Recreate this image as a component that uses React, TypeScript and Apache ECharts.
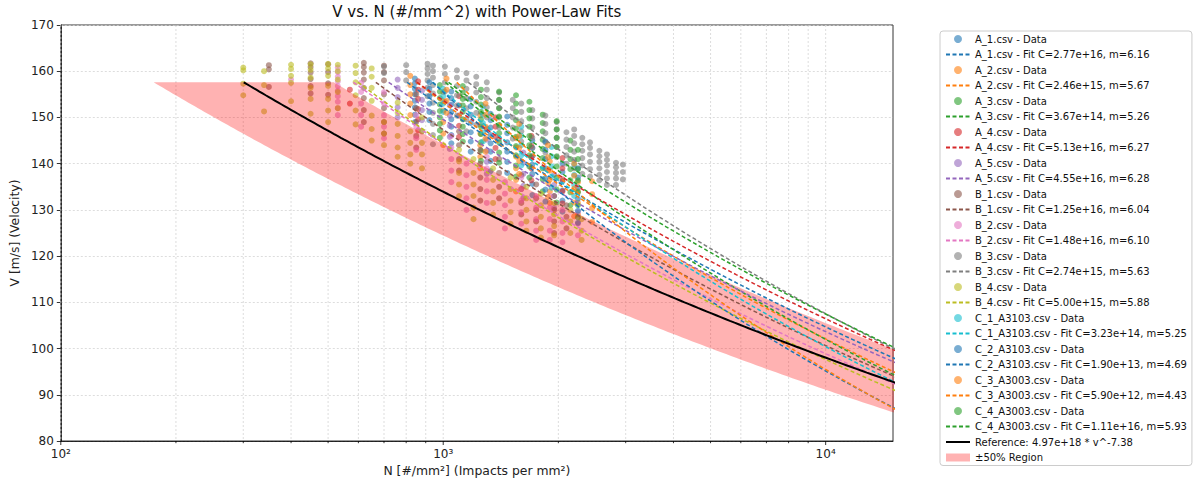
import React, { useEffect, useRef } from 'react';
import * as echarts from 'echarts';

type Col = [number, number[]];

const FILES = [
  'A_1.csv', 'A_2.csv', 'A_3.csv', 'A_4.csv', 'A_5.csv',
  'B_1.csv', 'B_2.csv', 'B_3.csv', 'B_4.csv',
  'C_1_A3103.csv', 'C_2_A3103.csv', 'C_3_A3003.csv', 'C_4_A3003.csv',
];
const COLORS = [
  '#1f77b4', '#ff7f0e', '#2ca02c', '#d62728', '#9467bd',
  '#8c564b', '#e377c2', '#7f7f7f', '#bcbd22',
  '#17becf', '#1f77b4', '#ff7f0e', '#2ca02c',
];
const FIT_C = [2.77e16, 2.46e15, 3.67e14, 5.13e16, 4.55e16, 1.25e16, 1.48e16, 2.74e15, 5.0e15, 3.23e14, 1.9e13, 5.9e12, 1.11e16];
const FIT_M = [6.16, 5.67, 5.26, 6.27, 6.28, 6.04, 6.1, 5.63, 5.88, 5.25, 4.69, 4.43, 5.93];
const REF_C = 4.97e18;
const REF_M = 7.38;
const V_TOP = 157.6;
const V_BOTTOM = 80;
const BAND_FACTOR = 1.72;

const X_MAJOR = [100, 1000, 10000];
const X_MINOR = [200, 300, 400, 500, 600, 700, 800, 900, 2000, 3000, 4000, 5000, 6000, 7000, 8000, 9000];
const SUP: Record<number, string> = { 2: '\u00b2', 3: '\u00b3', 4: '\u2074' };

// data columns: [N, [v values]]
const DATA_A_1: Col[] = [
  [843, [158.4, 157.4, 156.2, 155.0, 153.6, 152.2, 150.6, 149.0]],
  [1050, [155.6, 154.2, 152.8, 151.2, 149.6, 148.0, 146.2, 144.4]],
  [1330, [150.8, 149.4, 147.8, 146.2, 144.4, 142.6, 140.6, 138.4]],
  [1710, [145.0, 143.4, 141.6, 139.8, 137.8, 135.6, 133.2]],
  [2050, [140.0, 138.2, 136.2, 134.2, 132.0, 129.6]],
];
const DATA_A_2: Col[] = [
  [820, [159.0, 157.0, 155.0, 153.0, 150.5]],
  [1000, [155.5, 153.5, 151.5, 149.0, 146.5, 144.0]],
  [1250, [150.5, 148.5, 146.5, 144.0, 141.5, 139.0]],
  [1550, [145.5, 143.5, 141.5, 139.0, 136.5, 134.0]],
  [1900, [140.5, 138.5, 136.5, 134.0, 131.5]],
  [2250, [136.0, 134.0, 131.5, 129.0]],
];
const DATA_A_3: Col[] = [
  [980, [157.0, 155.6, 154.2, 152.8, 151.4, 150.0, 148.6, 147.2, 145.6]],
  [1255, [156.0, 154.4, 152.8, 151.2, 149.6, 148.0, 146.4, 144.6, 142.8, 140.6]],
  [1550, [154.8, 153.0, 151.2, 149.4, 147.6, 145.8, 143.8, 141.8, 139.6, 137.2]],
  [1820, [150.6, 148.8, 147.0, 145.2, 143.2, 141.2, 139.0, 136.6, 134.0]],
  [2150, [145.0, 143.0, 141.0, 138.8, 136.4, 133.8, 131.0]],
];
const DATA_A_4: Col[] = [
  [570, [156.0, 153.0]],
  [860, [157.8, 156.0, 154.0, 151.8, 149.6, 147.2]],
  [1100, [154.6, 152.6, 150.4, 148.2, 145.8]],
  [1370, [150.0, 148.0, 145.8, 143.4, 141.0]],
  [1700, [146.0, 143.8, 141.4, 139.0, 136.4]],
  [2050, [141.2, 139.0, 136.6, 134.0, 131.4]],
];
const DATA_A_5: Col[] = [
  [760, [158.2, 156.4, 154.4, 152.2, 150.0]],
  [880, [155.8, 153.8, 151.6, 149.4, 147.0]],
  [1040, [152.6, 150.4, 148.2, 145.8, 143.2]],
  [1300, [147.4, 145.2, 142.8, 140.4, 137.8]],
  [1620, [142.4, 140.2, 137.8, 135.2, 132.6]],
  [1950, [137.6, 135.4, 133.0, 130.4]],
];
const DATA_B_1: Col[] = [
  [350, [161.3, 160.4, 156.6]],
  [450, [161.7, 160.9, 159.7, 158.3, 156.8, 155.2]],
  [500, [161.5, 159.8, 157.4, 154.9]],
  [620, [161.8, 160.9, 159.7, 158.2, 156.4, 154.2, 151.6, 149.0]],
  [700, [161.2, 159.8, 158.0, 155.0, 152.0, 149.0, 146.5]],
  [850, [155.0, 152.0, 149.0, 146.0, 143.5]],
  [1100, [147.0, 144.0, 141.0, 138.5]],
  [1250, [143.0, 140.0, 137.0, 134.5, 132.0]],
  [1400, [141.0, 138.0, 135.0, 132.5]],
  [1600, [137.5, 134.5, 131.5, 129.0]],
  [1750, [135.5, 132.5, 130.0, 127.5]],
  [1950, [133.0, 130.0, 127.5, 125.0]],
  [2100, [131.0, 128.5, 126.0]],
];
const DATA_B_2: Col[] = [
  [400, [158.2]],
  [530, [160.8, 159.8, 158.8, 157.8, 156.8, 155.8, 154.6, 153.4, 152.0, 150.5]],
  [610, [157.5, 155.5, 153.0, 150.5, 148.0]],
  [700, [155.5, 153.0, 150.5, 148.0, 145.5]],
  [850, [150.5, 148.0, 145.5, 143.0]],
  [1050, [146.0, 143.5, 141.0, 138.5, 136.0]],
  [1150, [140.0, 137.5, 135.0, 132.5, 130.0]],
  [1300, [141.5, 139.0, 136.5, 134.0, 131.5]],
  [1450, [136.0, 133.5, 131.0, 128.5, 126.0]],
  [1600, [137.0, 134.5, 132.0, 129.5, 127.0]],
  [1750, [133.0, 130.5, 128.0, 125.5, 123.5]],
  [1900, [133.0, 130.5, 128.0, 125.5, 123.5]],
  [2050, [130.0, 127.5, 125.0, 123.0]],
  [2250, [129.5, 127.0, 124.5]],
];
const DATA_B_3: Col[] = [
  [700, [161.0, 159.6]],
  [800, [161.3, 159.8, 158.0]],
  [910, [161.6, 160.6, 159.4, 158.0, 156.4, 154.6]],
  [940, [161.2, 160.0, 158.6, 157.0, 155.2, 153.2, 151.0, 148.6, 146.2, 144.2]],
  [1010, [161.0, 159.4, 157.6, 155.6, 153.4]],
  [1086, [160.2, 158.6, 156.8, 154.8, 152.6, 150.4]],
  [1150, [159.6, 158.0, 156.2, 154.2, 152.0, 149.6, 147.0]],
  [1220, [158.8, 157.2, 155.4, 153.4, 151.0, 148.4]],
  [1300, [157.6, 156.0, 154.2, 152.2, 150.0, 147.6]],
  [1400, [155.4, 153.8, 152.0, 150.0, 147.8, 145.4]],
  [1520, [153.8, 152.0, 150.0, 147.8, 145.4]],
  [1600, [153.0, 151.2, 149.2, 147.0, 144.8]],
  [1710, [151.6, 149.8, 147.8, 145.6, 143.4]],
  [1850, [150.4, 148.6, 146.6, 144.6, 142.4]],
  [1980, [149.0, 147.4, 145.6, 143.6, 141.4]],
  [2100, [146.8, 145.2, 143.6, 141.8, 140.0]],
  [2200, [147.4, 146.0, 144.4, 142.6, 140.8, 139.0]],
  [2310, [145.6, 144.2, 142.8, 141.2, 139.6, 137.8]],
  [2420, [144.6, 143.4, 142.0, 140.4, 138.8, 137.2]],
  [2560, [142.8, 141.6, 140.4, 139.0, 137.6, 136.4]],
  [2680, [142.0, 140.8, 139.6, 138.2, 136.8, 135.4]],
  [2830, [140.2, 139.2, 138.0, 136.8, 135.4]],
  [2950, [139.8, 138.2, 136.6]],
];
const DATA_B_4: Col[] = [
  [300, [160.8, 160.2, 157.3, 154.8]],
  [340, [160.0, 157.0, 151.3]],
  [400, [161.4, 160.5, 159.0, 157.5, 153.5]],
  [450, [161.5, 160.3, 158.6, 156.4, 154.0, 150.8]],
  [500, [161.6, 160.6, 159.0, 156.8, 154.0, 151.5, 149.0]],
  [530, [161.4, 160.0, 158.2, 155.5, 152.0]],
  [590, [161.2, 159.6, 157.6, 154.8, 151.5, 148.5]],
  [650, [160.6, 158.8, 156.4, 153.6, 150.4, 147.5, 145.0]],
  [700, [149.0, 146.5, 144.0]],
  [760, [153.2, 151.0, 148.6, 146.0, 143.5, 141.5]],
  [820, [147.0, 144.5, 142.0, 140.0]],
  [880, [150.0, 147.0, 144.5, 142.0, 139.0]],
  [1100, [143.0, 140.5, 138.0, 135.5, 133.0]],
  [1200, [141.0, 138.0, 135.5, 133.0, 130.5, 128.0]],
  [1350, [139.0, 136.5, 134.0, 131.5, 129.0]],
  [1500, [137.0, 134.5, 132.0, 129.5, 127.0]],
  [1650, [135.0, 132.5, 130.0, 127.5, 125.5]],
  [1800, [133.5, 131.0, 128.5, 126.0, 124.0]],
  [1950, [131.5, 129.0, 126.5, 124.5]],
  [2150, [130.0, 127.5, 125.0]],
  [2300, [128.0, 125.5, 123.5]],
];
const DATA_C_1: Col[] = [
  [1000, [156.2, 154.6, 153.0, 151.2]],
  [1270, [152.4, 150.6, 148.8, 146.8, 144.8]],
  [1600, [148.0, 146.0, 144.0, 141.8, 139.6]],
  [1920, [143.6, 141.6, 139.4, 137.2, 134.8]],
  [2200, [139.8, 137.6, 135.4, 133.0]],
];
const DATA_C_2: Col[] = [
  [920, [157.6, 156.2, 154.6, 153.0, 151.2, 149.4]],
  [1180, [154.0, 152.4, 150.6, 148.8, 146.8, 144.8, 142.6]],
  [1470, [150.2, 148.4, 146.6, 144.6, 142.6, 140.4, 138.0]],
  [1850, [144.8, 143.0, 141.0, 139.0, 136.8, 134.4, 131.8]],
  [2250, [139.0, 137.0, 134.8, 132.4, 129.8, 127.2]],
];
const DATA_C_3: Col[] = [
  [1020, [158.4, 156.0, 153.6, 151.0]],
  [1290, [153.0, 150.6, 148.0, 145.4, 142.6]],
  [1580, [148.6, 146.0, 143.4, 140.6, 137.8]],
  [1880, [144.0, 141.4, 138.6, 135.8, 132.8]],
  [2200, [140.0, 137.4, 134.6, 131.6, 128.6]],
  [2450, [136.2, 133.4, 130.4, 127.4]],
];
const DATA_C_4: Col[] = [
  [1125, [156.8, 155.4, 154.0, 152.6, 151.2, 149.6, 148.0, 146.4, 144.8]],
  [1400, [155.6, 153.8, 152.0, 150.2, 148.4, 146.6, 144.6, 142.4, 140.2]],
  [1680, [153.4, 151.6, 149.8, 148.0, 146.0, 144.0, 141.8, 139.4, 137.0]],
  [1980, [149.2, 147.4, 145.6, 143.6, 141.6, 139.4, 137.0, 134.4, 131.6]],
  [2250, [143.0, 141.0, 138.8, 136.4, 133.8, 131.0, 128.4]],
];

const ALL_DATA: Col[][] = [
  DATA_A_1, DATA_A_2, DATA_A_3, DATA_A_4, DATA_A_5,
  DATA_B_1, DATA_B_2, DATA_B_3, DATA_B_4,
  DATA_C_1, DATA_C_2, DATA_C_3, DATA_C_4,
];

const FONT = "'DejaVu Sans', sans-serif";

function flatten(cols: Col[]): number[][] {
  const out: number[][] = [];
  cols.forEach(([n, vs]) => vs.forEach((v) => out.push([n, v])));
  return out;
}

function vGrid(): number[] {
  const out: number[] = [];
  for (let v = V_TOP; v >= V_BOTTOM - 1e-9; v -= 0.4) out.push(v);
  return out;
}

function powerCurve(c: number, m: number): number[][] {
  return vGrid().map((v) => [c * Math.pow(v, -m), v]);
}

export default function App() {
  const ref = useRef<HTMLDivElement>(null);

  useEffect(() => {
    document.body.style.margin = '0';
    const chart = echarts.init(ref.current!, null, { renderer: 'svg' });

    const series: any[] = [];
    const legendData: any[] = [];

    // grid lines & ticks for the log axis
    series.push({
      type: 'custom',
      name: '__grid',
      silent: true,
      z: 1,
      clip: false,
      data: [...X_MAJOR.map((x) => [x, 80, 1]), ...X_MINOR.map((x) => [x, 80, 0])],
      renderItem: (params: any, api: any) => {
        const x = api.value(0);
        const major = api.value(2) === 1;
        const top = api.coord([x, 170]);
        const bot = api.coord([x, 80]);
        return {
          type: 'group',
          children: [
            {
              type: 'line',
              shape: { x1: top[0], y1: top[1], x2: bot[0], y2: bot[1] },
              style: { stroke: '#d4d4d4', lineWidth: 0.8, lineDash: [2, 2] },
            },
            {
              type: 'line',
              shape: { x1: bot[0], y1: bot[1], x2: bot[0], y2: bot[1] + (major ? 4 : 2.2) },
              style: { stroke: '#000', lineWidth: 0.8 },
            },
          ],
        };
      },
    });

    FILES.forEach((f, i) => {
      const name = `${f} - Data`;
      series.push({
        type: 'scatter',
        name,
        data: flatten(ALL_DATA[i]),
        symbol: 'circle',
        symbolSize: 6,
        itemStyle: { color: COLORS[i], opacity: 0.6 },
        z: 2,
        silent: true,
      });
    });

    // ±50% band, drawn above scatter points
    series.push({
      type: 'custom',
      name: '±50% Region',
      z: 3,
      clip: true,
      silent: true,
      itemStyle: { color: 'rgba(255,0,0,0.3)' },
      data: [[REF_C * Math.pow(V_TOP, -REF_M), V_TOP]],
      renderItem: (params: any, api: any) => {
        const vs = vGrid();
        const pts: number[][] = [];
        vs.forEach((v) => pts.push(api.coord([REF_C * Math.pow(v, -REF_M) * BAND_FACTOR, v])));
        [...vs].reverse().forEach((v) => pts.push(api.coord([(REF_C * Math.pow(v, -REF_M)) / BAND_FACTOR, v])));
        return { type: 'polygon', shape: { points: pts }, style: { fill: 'rgba(255,0,0,0.3)' } };
      },
    });

    const fitName = (i: number) => `${FILES[i]} - Fit C=${FIT_C[i].toExponential(2)}, m=${FIT_M[i].toFixed(2)}`;

    FILES.forEach((f, i) => {
      series.push({
        type: 'line',
        name: fitName(i),
        data: powerCurve(FIT_C[i], FIT_M[i]),
        showSymbol: false,
        symbol: 'none',
        lineStyle: { color: COLORS[i], width: 1.5, type: [4, 2.5] },
        itemStyle: { color: COLORS[i] },
        z: 4,
        silent: true,
      });
    });

    const refName = `Reference: ${REF_C.toExponential(2)} * v^-${REF_M.toFixed(2)}`;
    series.push({
      type: 'line',
      name: refName,
      data: powerCurve(REF_C, REF_M),
      showSymbol: false,
      symbol: 'none',
      lineStyle: { color: '#000', width: 2 },
      itemStyle: { color: '#000' },
      z: 5,
      silent: true,
    });

    FILES.forEach((f, i) => {
      legendData.push({ name: `${f} - Data`, icon: 'circle' });
      legendData.push({ name: fitName(i), itemStyle: { opacity: 0 } });
    });
    legendData.push({ name: refName, itemStyle: { opacity: 0 } });
    legendData.push({ name: '±50% Region', icon: 'rect' });

    const gridLeft = 60.5;
    const gridRight = 893;

    chart.setOption({
      animation: false,
      backgroundColor: '#fff',
      grid: {
        left: gridLeft,
        right: 1198 - gridRight,
        top: 25,
        bottom: 41,
        show: true,
        borderColor: '#000',
        borderWidth: 0.8,
        backgroundColor: 'transparent',
      },
      graphic: [
        {
          type: 'text',
          x: (gridLeft + gridRight) / 2,
          y: 12,
          style: {
            text: 'V vs. N (#/mm^2) with Power-Law Fits',
            fontSize: 15,
            fontFamily: FONT,
            fill: '#111',
            align: 'center',
            verticalAlign: 'middle',
          },
        },
      ],
      xAxis: {
        type: 'log',
        logBase: 10,
        min: 100,
        max: 15000,
        name: 'N [#/mm\u00b2] (Impacts per mm\u00b2)',
        nameLocation: 'middle',
        nameGap: 19,
        nameTextStyle: { fontSize: 12.4, fontFamily: FONT, color: '#222', verticalAlign: 'top' },
        axisLine: { show: true, onZero: false, lineStyle: { color: '#000', width: 0.8 } },
        axisTick: { show: false },
        splitLine: { show: false },
        minorTick: { show: false },
        minorSplitLine: { show: false },
        axisLabel: {
          fontSize: 12,
          fontFamily: FONT,
          color: '#222',
          margin: 7,
          formatter: (val: number) => {
            const e = Math.log10(val);
            const r = Math.round(e);
            if (Math.abs(e - r) < 1e-6 && SUP[r]) return '10' + SUP[r];
            return '';
          },
        },
      },
      yAxis: {
        type: 'value',
        min: 80,
        max: 170,
        interval: 10,
        name: 'V [m/s] (Velocity)',
        nameLocation: 'middle',
        nameGap: 36,
        nameTextStyle: { fontSize: 12.4, fontFamily: FONT, color: '#222' },
        axisLine: { show: true, lineStyle: { color: '#000', width: 0.8 } },
        axisTick: { show: true, length: 4, lineStyle: { color: '#000', width: 0.8 } },
        splitLine: { show: true, lineStyle: { color: '#d4d4d4', width: 0.8, type: [2, 2] } },
        axisLabel: { fontSize: 12, fontFamily: FONT, color: '#222', margin: 7 },
      },
      legend: {
        orient: 'vertical',
        left: 940,
        top: 31,
        itemWidth: 24,
        itemHeight: 8,
        itemGap: 3.5,
        padding: [2, 5, 2, 5],
        borderColor: '#cccccc',
        borderWidth: 1,
        borderRadius: 3,
        backgroundColor: '#fff',
        selectedMode: false,
        textStyle: { fontSize: 10, lineHeight: 12, color: '#111', fontFamily: FONT },
        data: legendData,
      },
      series,
    });

    return () => chart.dispose();
  }, []);

  return <div ref={ref} style={{ width: 1198, height: 482 }} />;
}
